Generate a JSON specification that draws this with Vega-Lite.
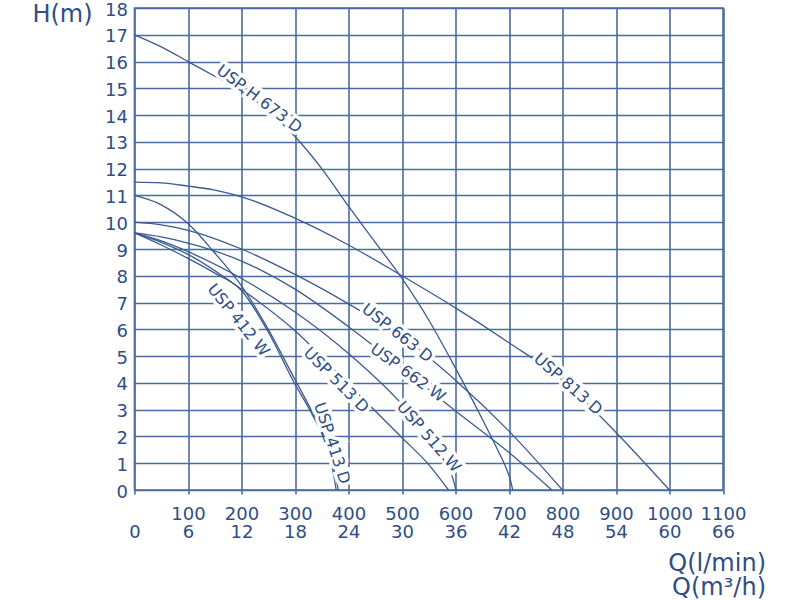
{
  "$schema": "https://vega.github.io/schema/vega-lite/v6.json",
  "width": 588.5,
  "height": 482,
  "autosize": "none",
  "padding": {"left": 134.5, "top": 8, "right": 77, "bottom": 110},
  "background": "white",
  "config": {
    "view": {"stroke": "#4a6b9f", "strokeWidth": 1.6},
    "font": "DejaVu Sans",
    "axisY": {"labelOverlap": false},
    "axisX": {"labelOverlap": false}
  },
  "datasets": {
    "curves": [
      {"model": "USP H 673 D", "Q": 0, "H": 17.0},
      {"model": "USP H 673 D", "Q": 50, "H": 16.55},
      {"model": "USP H 673 D", "Q": 100, "H": 16.0},
      {"model": "USP H 673 D", "Q": 150, "H": 15.45},
      {"model": "USP H 673 D", "Q": 200, "H": 14.9},
      {"model": "USP H 673 D", "Q": 250, "H": 14.15},
      {"model": "USP H 673 D", "Q": 300, "H": 13.2},
      {"model": "USP H 673 D", "Q": 350, "H": 12.0},
      {"model": "USP H 673 D", "Q": 400, "H": 10.6},
      {"model": "USP H 673 D", "Q": 450, "H": 9.25},
      {"model": "USP H 673 D", "Q": 500, "H": 7.9},
      {"model": "USP H 673 D", "Q": 550, "H": 6.35},
      {"model": "USP H 673 D", "Q": 600, "H": 4.55},
      {"model": "USP H 673 D", "Q": 650, "H": 2.65},
      {"model": "USP H 673 D", "Q": 680, "H": 1.45},
      {"model": "USP H 673 D", "Q": 695, "H": 0.8},
      {"model": "USP H 673 D", "Q": 703, "H": 0.35},
      {"model": "USP H 673 D", "Q": 707, "H": 0},
      {"model": "USP 813 D", "Q": 0, "H": 11.5},
      {"model": "USP 813 D", "Q": 50, "H": 11.47},
      {"model": "USP 813 D", "Q": 100, "H": 11.35},
      {"model": "USP 813 D", "Q": 150, "H": 11.2},
      {"model": "USP 813 D", "Q": 200, "H": 10.95},
      {"model": "USP 813 D", "Q": 300, "H": 10.15},
      {"model": "USP 813 D", "Q": 400, "H": 9.15},
      {"model": "USP 813 D", "Q": 500, "H": 8.0},
      {"model": "USP 813 D", "Q": 600, "H": 6.8},
      {"model": "USP 813 D", "Q": 700, "H": 5.5},
      {"model": "USP 813 D", "Q": 800, "H": 4.1},
      {"model": "USP 813 D", "Q": 900, "H": 2.15},
      {"model": "USP 813 D", "Q": 1000, "H": 0},
      {"model": "USP 663 D", "Q": 0, "H": 10.0},
      {"model": "USP 663 D", "Q": 50, "H": 9.9},
      {"model": "USP 663 D", "Q": 100, "H": 9.7},
      {"model": "USP 663 D", "Q": 200, "H": 9.0},
      {"model": "USP 663 D", "Q": 300, "H": 8.05},
      {"model": "USP 663 D", "Q": 400, "H": 6.95},
      {"model": "USP 663 D", "Q": 500, "H": 5.72},
      {"model": "USP 663 D", "Q": 600, "H": 4.1},
      {"model": "USP 663 D", "Q": 700, "H": 2.2},
      {"model": "USP 663 D", "Q": 800, "H": 0},
      {"model": "USP 662 W", "Q": 0, "H": 9.6},
      {"model": "USP 662 W", "Q": 50, "H": 9.45},
      {"model": "USP 662 W", "Q": 100, "H": 9.22},
      {"model": "USP 662 W", "Q": 200, "H": 8.55},
      {"model": "USP 662 W", "Q": 300, "H": 7.5},
      {"model": "USP 662 W", "Q": 400, "H": 6.1},
      {"model": "USP 662 W", "Q": 500, "H": 4.55},
      {"model": "USP 662 W", "Q": 600, "H": 2.95},
      {"model": "USP 662 W", "Q": 700, "H": 1.4},
      {"model": "USP 662 W", "Q": 780, "H": 0},
      {"model": "USP 512 W", "Q": 0, "H": 9.6},
      {"model": "USP 512 W", "Q": 50, "H": 9.3},
      {"model": "USP 512 W", "Q": 100, "H": 8.9},
      {"model": "USP 512 W", "Q": 200, "H": 7.9},
      {"model": "USP 512 W", "Q": 300, "H": 6.65},
      {"model": "USP 512 W", "Q": 400, "H": 5.1},
      {"model": "USP 512 W", "Q": 500, "H": 3.2},
      {"model": "USP 512 W", "Q": 550, "H": 2.0},
      {"model": "USP 512 W", "Q": 580, "H": 1.05},
      {"model": "USP 512 W", "Q": 594, "H": 0.5},
      {"model": "USP 512 W", "Q": 601, "H": 0},
      {"model": "USP 513 D", "Q": 0, "H": 9.6},
      {"model": "USP 513 D", "Q": 50, "H": 9.25},
      {"model": "USP 513 D", "Q": 100, "H": 8.8},
      {"model": "USP 513 D", "Q": 200, "H": 7.5},
      {"model": "USP 513 D", "Q": 300, "H": 5.95},
      {"model": "USP 513 D", "Q": 400, "H": 3.95},
      {"model": "USP 513 D", "Q": 500, "H": 1.95},
      {"model": "USP 513 D", "Q": 550, "H": 0.95},
      {"model": "USP 513 D", "Q": 587, "H": 0},
      {"model": "USP 412 W", "Q": 0, "H": 9.6},
      {"model": "USP 412 W", "Q": 50, "H": 9.15},
      {"model": "USP 412 W", "Q": 100, "H": 8.65},
      {"model": "USP 412 W", "Q": 150, "H": 8.1},
      {"model": "USP 412 W", "Q": 200, "H": 7.45},
      {"model": "USP 412 W", "Q": 250, "H": 5.9},
      {"model": "USP 412 W", "Q": 300, "H": 3.95},
      {"model": "USP 412 W", "Q": 330, "H": 2.9},
      {"model": "USP 412 W", "Q": 355, "H": 1.85},
      {"model": "USP 412 W", "Q": 368, "H": 1.0},
      {"model": "USP 412 W", "Q": 377, "H": 0},
      {"model": "USP 413 D", "Q": 0, "H": 11.0},
      {"model": "USP 413 D", "Q": 50, "H": 10.65},
      {"model": "USP 413 D", "Q": 100, "H": 9.95},
      {"model": "USP 413 D", "Q": 150, "H": 8.85},
      {"model": "USP 413 D", "Q": 200, "H": 7.62},
      {"model": "USP 413 D", "Q": 250, "H": 6.0},
      {"model": "USP 413 D", "Q": 300, "H": 4.12},
      {"model": "USP 413 D", "Q": 330, "H": 3.0},
      {"model": "USP 413 D", "Q": 355, "H": 1.95},
      {"model": "USP 413 D", "Q": 370, "H": 1.0},
      {"model": "USP 413 D", "Q": 381, "H": 0}
    ],
    "labels": [
      {"model": "USP H 673 D", "Q": 233, "H": 14.6},
      {"model": "USP 813 D", "Q": 810, "H": 3.95},
      {"model": "USP 663 D", "Q": 491, "H": 5.86},
      {"model": "USP 662 W", "Q": 511, "H": 4.37},
      {"model": "USP 512 W", "Q": 550, "H": 1.98},
      {"model": "USP 513 D", "Q": 377, "H": 4.1},
      {"model": "USP 412 W", "Q": 194, "H": 6.34},
      {"model": "USP 413 D", "Q": 369, "H": 1.75}
    ]
  },
  "encoding": {
    "x": {
      "field": "Q", "type": "quantitative",
      "scale": {"domain": [0, 1100], "nice": false, "zero": true},
      "axis": {
        "values": [0, 100, 200, 300, 400, 500, 600, 700, 800, 900, 1000, 1100],
        "format": "d",
        "title": ["Q(l/min)", "Q(m³/h)"],
        "titleAlign": "right",
        "titleX": 631,
        "titleY": 80,
        "titleBaseline": "alphabetic",
        "titleFontSize": 24,
        "titleFontWeight": "normal",
        "titleColor": "#2e4e85",
        "titleLineHeight": 24,
        "labelExpr": "datum.value == 0 ? ['', '0'] : ['' + datum.value, '' + round(datum.value * 0.06)]",
        "labelFontSize": 18,
        "labelColor": "#2e4e85",
        "labelLineHeight": 18,
        "labelPadding": 11,
        "labelFlush": false,
        "labelOverlap": false,
        "labelBound": false,
        "tickSize": 4,
        "tickColor": "#4a6b9f",
        "tickWidth": 1.6,
        "grid": true,
        "gridColor": "#4a6b9f",
        "gridWidth": 1.6,
        "gridOpacity": 1,
        "domain": false
      }
    },
    "y": {
      "field": "H", "type": "quantitative",
      "scale": {"domain": [0, 18], "nice": false},
      "axis": {
        "values": [0, 1, 2, 3, 4, 5, 6, 7, 8, 9, 10, 11, 12, 13, 14, 15, 16, 17, 18],
        "format": "d",
        "title": "H(m)",
        "titleAngle": 0,
        "titleX": -72.5,
        "titleY": 6,
        "titleAlign": "center",
        "titleBaseline": "middle",
        "titleFontSize": 24,
        "titleFontWeight": "normal",
        "titleColor": "#2e4e85",
        "labelFontSize": 18,
        "labelColor": "#2e4e85",
        "labelPadding": 7,
        "labelOffset": 2,
        "labelOverlap": false,
        "labelFlush": false,
        "labelBound": false,
        "ticks": false,
        "grid": true,
        "gridColor": "#4a6b9f",
        "gridWidth": 1.6,
        "gridOpacity": 1,
        "domain": false
      }
    }
  },
  "layer": [
    {
      "data": {"name": "curves"},
      "mark": {"type": "line", "interpolate": "monotone", "color": "#3b5b90", "strokeWidth": 1.3},
      "encoding": {
        "detail": {"field": "model", "type": "nominal"}
      }
    },
    {
      "data": {"name": "labels"},
      "mark": {"type": "text", "fontSize": 16, "align": "center", "baseline": "middle", "fill": "white", "stroke": "white", "strokeWidth": 7},
      "encoding": {
        "text": {"field": "model"},
        "angle": {
          "field": "model", "type": "nominal",
          "scale": {
            "type": "ordinal",
            "domain": ["USP H 673 D", "USP 813 D", "USP 663 D", "USP 662 W", "USP 512 W", "USP 513 D", "USP 412 W", "USP 413 D"],
            "range": [37, 41, 38, 36, 49, 45, 51, 72]
          },
          "legend": null
        }
      }
    },
    {
      "data": {"name": "labels"},
      "mark": {"type": "text", "fontSize": 16, "align": "center", "baseline": "middle", "fill": "#2e4e85"},
      "encoding": {
        "text": {"field": "model"},
        "angle": {
          "field": "model", "type": "nominal",
          "scale": {
            "type": "ordinal",
            "domain": ["USP H 673 D", "USP 813 D", "USP 663 D", "USP 662 W", "USP 512 W", "USP 513 D", "USP 412 W", "USP 413 D"],
            "range": [37, 41, 38, 36, 49, 45, 51, 72]
          },
          "legend": null
        }
      }
    }
  ]
}
